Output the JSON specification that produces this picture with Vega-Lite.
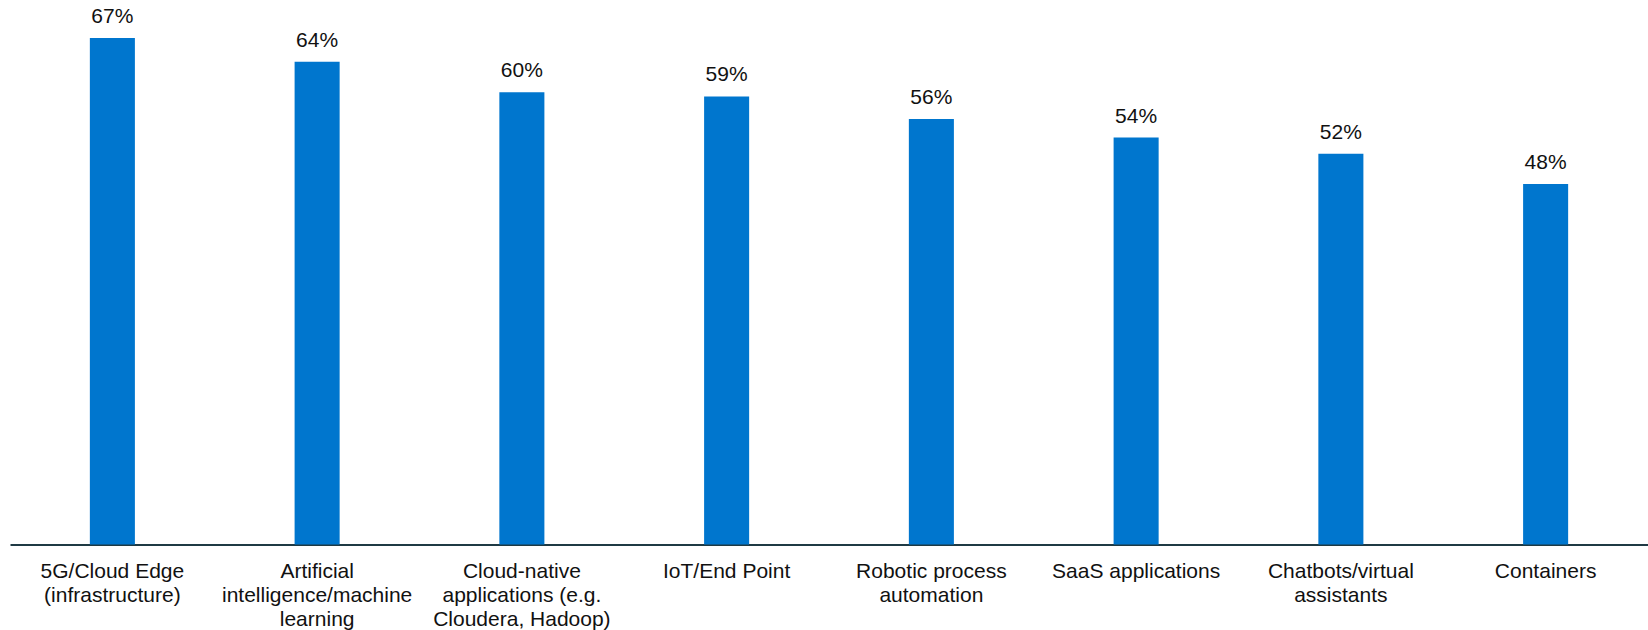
{
  "$schema": "https://vega.github.io/schema/vega-lite/v6.json",
  "width": 1638,
  "height": 528,
  "autosize": {"type": "none"},
  "padding": {"left": 10, "top": 16.5, "right": 0, "bottom": 85.5},
  "background": "white",
  "config": {"view": {"stroke": null}, "font": "Liberation Sans"},
  "data": {
    "values": [
      {"category": "5G/Cloud Edge (infrastructure)", "share": 0.6715},
      {"category": "Artificial intelligence/machine learning", "share": 0.64},
      {"category": "Cloud-native applications (e.g. Cloudera, Hadoop)", "share": 0.5995},
      {"category": "IoT/End Point", "share": 0.594},
      {"category": "Robotic process automation", "share": 0.564},
      {"category": "SaaS applications", "share": 0.5395},
      {"category": "Chatbots/virtual assistants", "share": 0.518},
      {"category": "Containers", "share": 0.478}
    ]
  },
  "encoding": {
    "x": {
      "field": "category",
      "type": "nominal",
      "sort": null,
      "scale": {"paddingInner": 0.78, "paddingOuter": 0.39},
      "axis": {
        "title": null,
        "labelAngle": 0,
        "labelBaseline": "top",
        "labelAlign": "center",
        "labelFont": "Liberation Sans",
        "labelFontSize": 21,
        "labelColor": "#111111",
        "labelLineHeight": 24,
        "labelPadding": 16,
        "labelLimit": 0,
        "labelOverlap": false,
        "ticks": false,
        "domainColor": "#1f3a44",
        "domainWidth": 2,
        "labelExpr": "{'5G/Cloud Edge (infrastructure)': ['5G/Cloud Edge', '(infrastructure)'], 'Artificial intelligence/machine learning': ['Artificial', 'intelligence/machine', 'learning'], 'Cloud-native applications (e.g. Cloudera, Hadoop)': ['Cloud-native', 'applications (e.g.', 'Cloudera, Hadoop)'], 'IoT/End Point': 'IoT/End Point', 'Robotic process automation': ['Robotic process', 'automation'], 'SaaS applications': 'SaaS applications', 'Chatbots/virtual assistants': ['Chatbots/virtual', 'assistants'], 'Containers': 'Containers'}[datum.value]"
      }
    },
    "y": {
      "field": "share",
      "type": "quantitative",
      "scale": {"domain": [0, 0.7]},
      "axis": null
    }
  },
  "layer": [
    {"mark": {"type": "bar", "color": "#0076CE"}},
    {
      "mark": {"type": "text", "baseline": "alphabetic", "dy": -15, "fontSize": 21, "font": "Liberation Sans", "color": "#111111"},
      "encoding": {"text": {"field": "share", "type": "quantitative", "format": ".0%"}}
    }
  ]
}
